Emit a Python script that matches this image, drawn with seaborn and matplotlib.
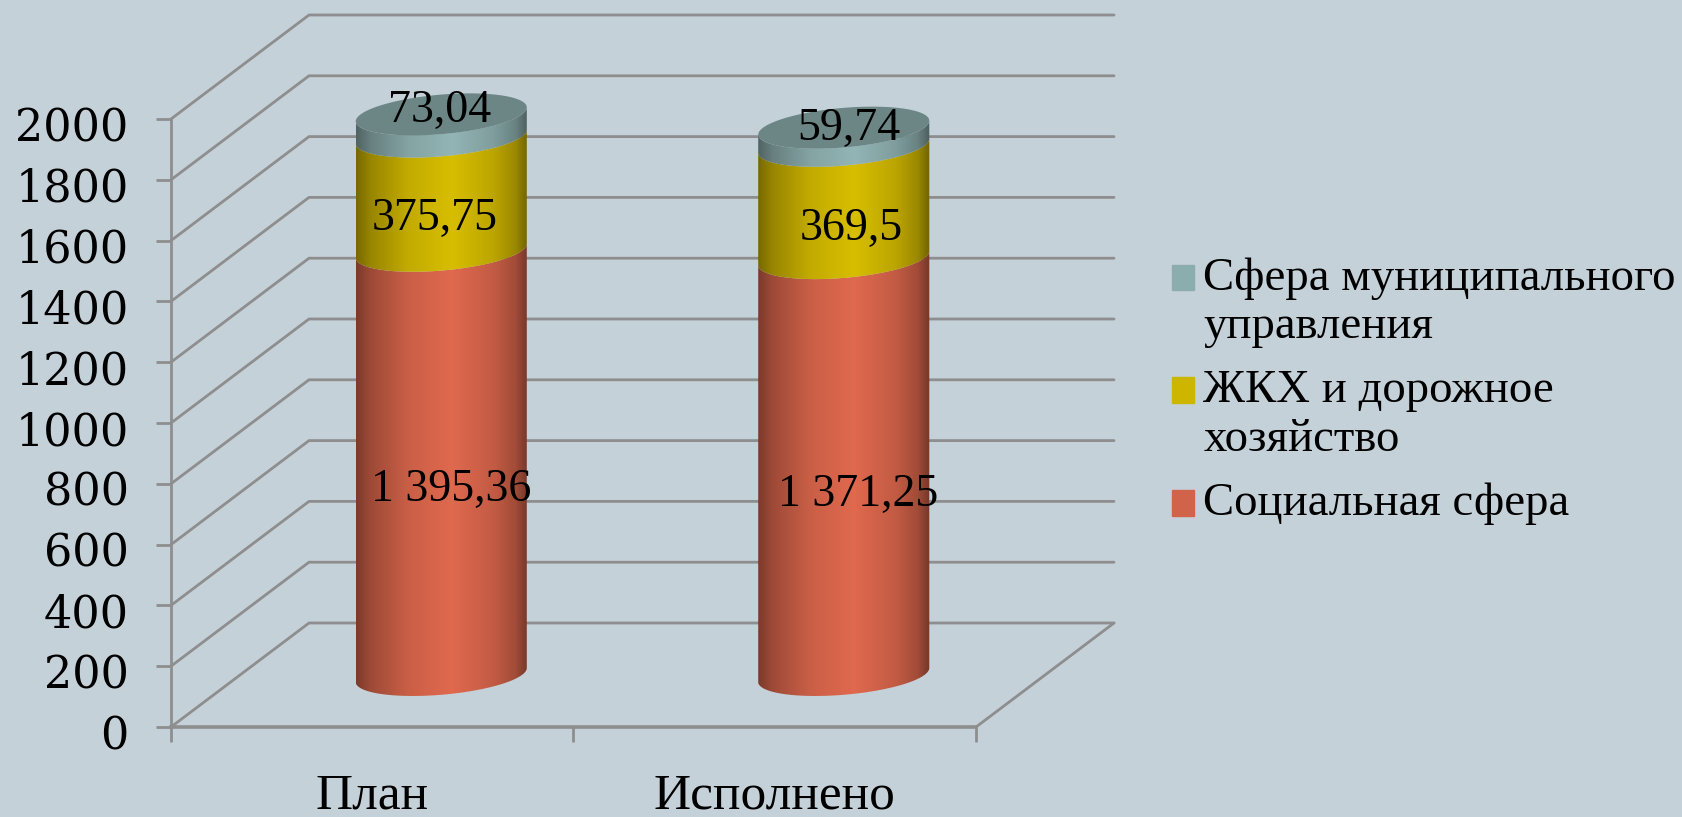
import numpy as np
import pandas as pd
import seaborn as sns
import matplotlib
matplotlib.use("Agg")
import matplotlib.pyplot as plt
from matplotlib.patches import PathPatch, Patch
from matplotlib.path import Path
from matplotlib.transforms import Affine2D

# data
categories = ["План", "Исполнено"]
social = [1395.36, 1371.25]
housing = [375.75, 369.5]
municipal = [73.04, 59.74]

series_names = ["Социальная сфера", "ЖКХ и дорожное\nхозяйство", "Сфера муниципального\nуправления"]
series_values = [social, housing, municipal]
series_colors = ["#E0694E", "#D8BE00", "#93B5B5"]
legend_colors = ["#D1634A", "#CDB500", "#8BADAE"]
y_ticks = [0, 200, 400, 600, 800, 1000, 1200, 1400, 1600, 1800, 2000]

BG = "#C5D1D8"
GRID = "#8E8E8E"

W, H = 1683, 817
# front plane of the fake 3d box, in pixels
LEFT, RIGHT, BOTTOM, TOP = 171, 976, 727, 119

sns.set_theme(style="white")
plt.rcParams["font.family"] = ["Liberation Serif", "DejaVu Serif"]

fig = plt.figure(figsize=(W / 100, H / 100), dpi=100, facecolor=BG)
ax = fig.add_axes([LEFT / W, 1 - BOTTOM / H, (RIGHT - LEFT) / W, (BOTTOM - TOP) / H])
ax.patch.set_alpha(0)

# bars, seaborn works out the geometry
bottoms = np.zeros(2)
for name, vals, col in zip(series_names, series_values, series_colors):
    df = pd.DataFrame({"cat": categories, "val": vals})
    sns.barplot(data=df, x="cat", y="val", color=col, bottom=bottoms, width=0.425, ax=ax)
    bottoms = bottoms + np.array(vals)

ax.set_xlim(-0.5, 1.5)
ax.set_ylim(0, 2000)

# pixels per data unit
px_x = (RIGHT - LEFT) / 2
px_y = (BOTTOM - TOP) / 2000

# box depth
depth_x = 138 / px_x
depth_y = 104 / px_y

# back wall lines + side lines
for v in y_ticks:
    ax.plot([-0.5, -0.5 + depth_x, 1.5 + depth_x], [v, v + depth_y, v + depth_y],
            color=GRID, lw=2.0, clip_on=False, zorder=1, solid_joinstyle="miter")
ax.plot([1.5, 1.5 + depth_x], [0, depth_y], color=GRID, lw=2.0, clip_on=False, zorder=1)

# shading across a cylinder, dark edges and bright just right of centre
shade_pos = [0, 0.08, 0.3, 0.56, 0.8, 0.93, 1]
shade_val = [0.55, 0.7, 0.9, 1.0, 0.87, 0.72, 0.52]
shade = np.interp(np.linspace(0, 1, 256), shade_pos, shade_val)

tilt = 7 / px_y      # ellipse left/right height
minor = 19.8 / px_y  # ellipse half height
t = np.linspace(np.pi, 2 * np.pi, 80)


def front_arc(cx, half, v):
    return cx + half * np.cos(t), v + tilt * np.cos(t) + minor * np.sin(t)


bars = ax.patches
n_cat = len(categories)
for s, col in enumerate(series_colors):
    rgb = np.array(matplotlib.colors.to_rgb(col))
    strip = (shade[None, :, None] * rgb[None, None, :]).clip(0, 1)
    for c in range(n_cat):
        bar = bars[s * n_cat + c]
        half = bar.get_width() / 2
        cx = bar.get_x() + half + depth_x / 2
        v0 = bar.get_y() + depth_y / 2
        v1 = v0 + bar.get_height()
        bar.set_visible(False)

        x0, y0 = front_arc(cx, half, v0)
        x1, y1 = front_arc(cx, half, v1)
        verts = np.vstack([np.column_stack([x0, y0]), np.column_stack([x1, y1])[::-1]])
        clip = PathPatch(Path(np.vstack([verts, verts[:1]])), transform=ax.transData,
                         fc="none", ec="none")
        ax.add_patch(clip)
        clip.set_clip_on(False)
        im = ax.imshow(strip, extent=(cx - half, cx + half, v0 - 2 * minor, v1 + 2 * minor),
                       aspect="auto", zorder=3, interpolation="bilinear")
        im.set_clip_path(clip)
        im.set_clip_box(fig.bbox)

        if s == len(series_colors) - 1:
            # lid of the cylinder
            tt = np.linspace(0, 2 * np.pi, 160)
            lid = np.column_stack([cx + half * np.cos(tt), v1 + tilt * np.cos(tt) + minor * np.sin(tt)])
            ax.fill(lid[:, 0], lid[:, 1], color="#6C8686", zorder=4, clip_on=False, lw=0)

ax.set_xlim(-0.5, 1.5)
ax.set_ylim(0, 2000)
ax.set_aspect("auto")

# value labels, nudged in pixels like the original
label_nudge = [[(10, -27), (14, -28)], [(-7, -25), (8, -27)], [(-2, 15), (5, 8)]]


def fmt(v):
    txt = f"{v:,.2f}".replace(",", " ").replace(".", ",")
    return txt[:-1] if txt.endswith("0") else txt


bottoms = np.zeros(2)
for s, vals in enumerate(series_values):
    for c, v in enumerate(vals):
        nx, ny = label_nudge[s][c]
        ax.annotate(fmt(v), xy=(c + depth_x / 2, bottoms[c] + v / 2 + depth_y / 2),
                    xytext=(nx * 0.72, ny * 0.72), textcoords="offset points",
                    ha="center", va="center", fontsize=33, color="black", zorder=6,
                    annotation_clip=False)
    bottoms = bottoms + np.array(vals)

# axes
sns.despine(ax=ax, top=True, right=True)
for side in ["left", "bottom"]:
    ax.spines[side].set_color(GRID)
ax.spines["left"].set_linewidth(2.0)
ax.spines["bottom"].set_linewidth(2.6)

ax.set_yticks(y_ticks)
ax.set_yticklabels([str(v) for v in y_ticks], fontsize=32, family=["DejaVu Serif"])
ax.tick_params(axis="y", length=10.5, width=2.0, color=GRID, pad=20, left=True, labelcolor="black")
for lab in ax.get_yticklabels():
    lab.set_transform(lab.get_transform() + Affine2D().translate(0, -5))
ax.set_xticks(range(n_cat))
ax.set_xticklabels(categories, fontsize=37, color="black")
ax.set_xticks([-0.5, 0.5, 1.5], minor=True)
ax.tick_params(axis="x", which="major", length=0, pad=33)
ax.tick_params(axis="x", which="minor", length=10.5, width=2.0, color=GRID, bottom=True)
ax.set_xlabel("")
ax.set_ylabel("")

# legend, teal goes on top
handles = [Patch(color=c, label=n) for c, n in zip(legend_colors, series_names)][::-1]
leg = fig.legend(handles=handles, loc="upper left", bbox_to_anchor=(1172 / W, 1 - 257 / H),
                 frameon=False, fontsize=33.7, handlelength=0.47, handleheight=0.47,
                 handletextpad=0.2, labelspacing=0.45, borderaxespad=0, borderpad=0,
                 labelcolor="black")
for row in leg._legend_handle_box.get_children()[0].get_children():
    row.align = "top"
# swatch sits level with the first text line
for p in leg.get_patches():
    p.set_y(p.get_y() - 5.5)

fig.savefig("out.png", dpi=100, facecolor=BG)
